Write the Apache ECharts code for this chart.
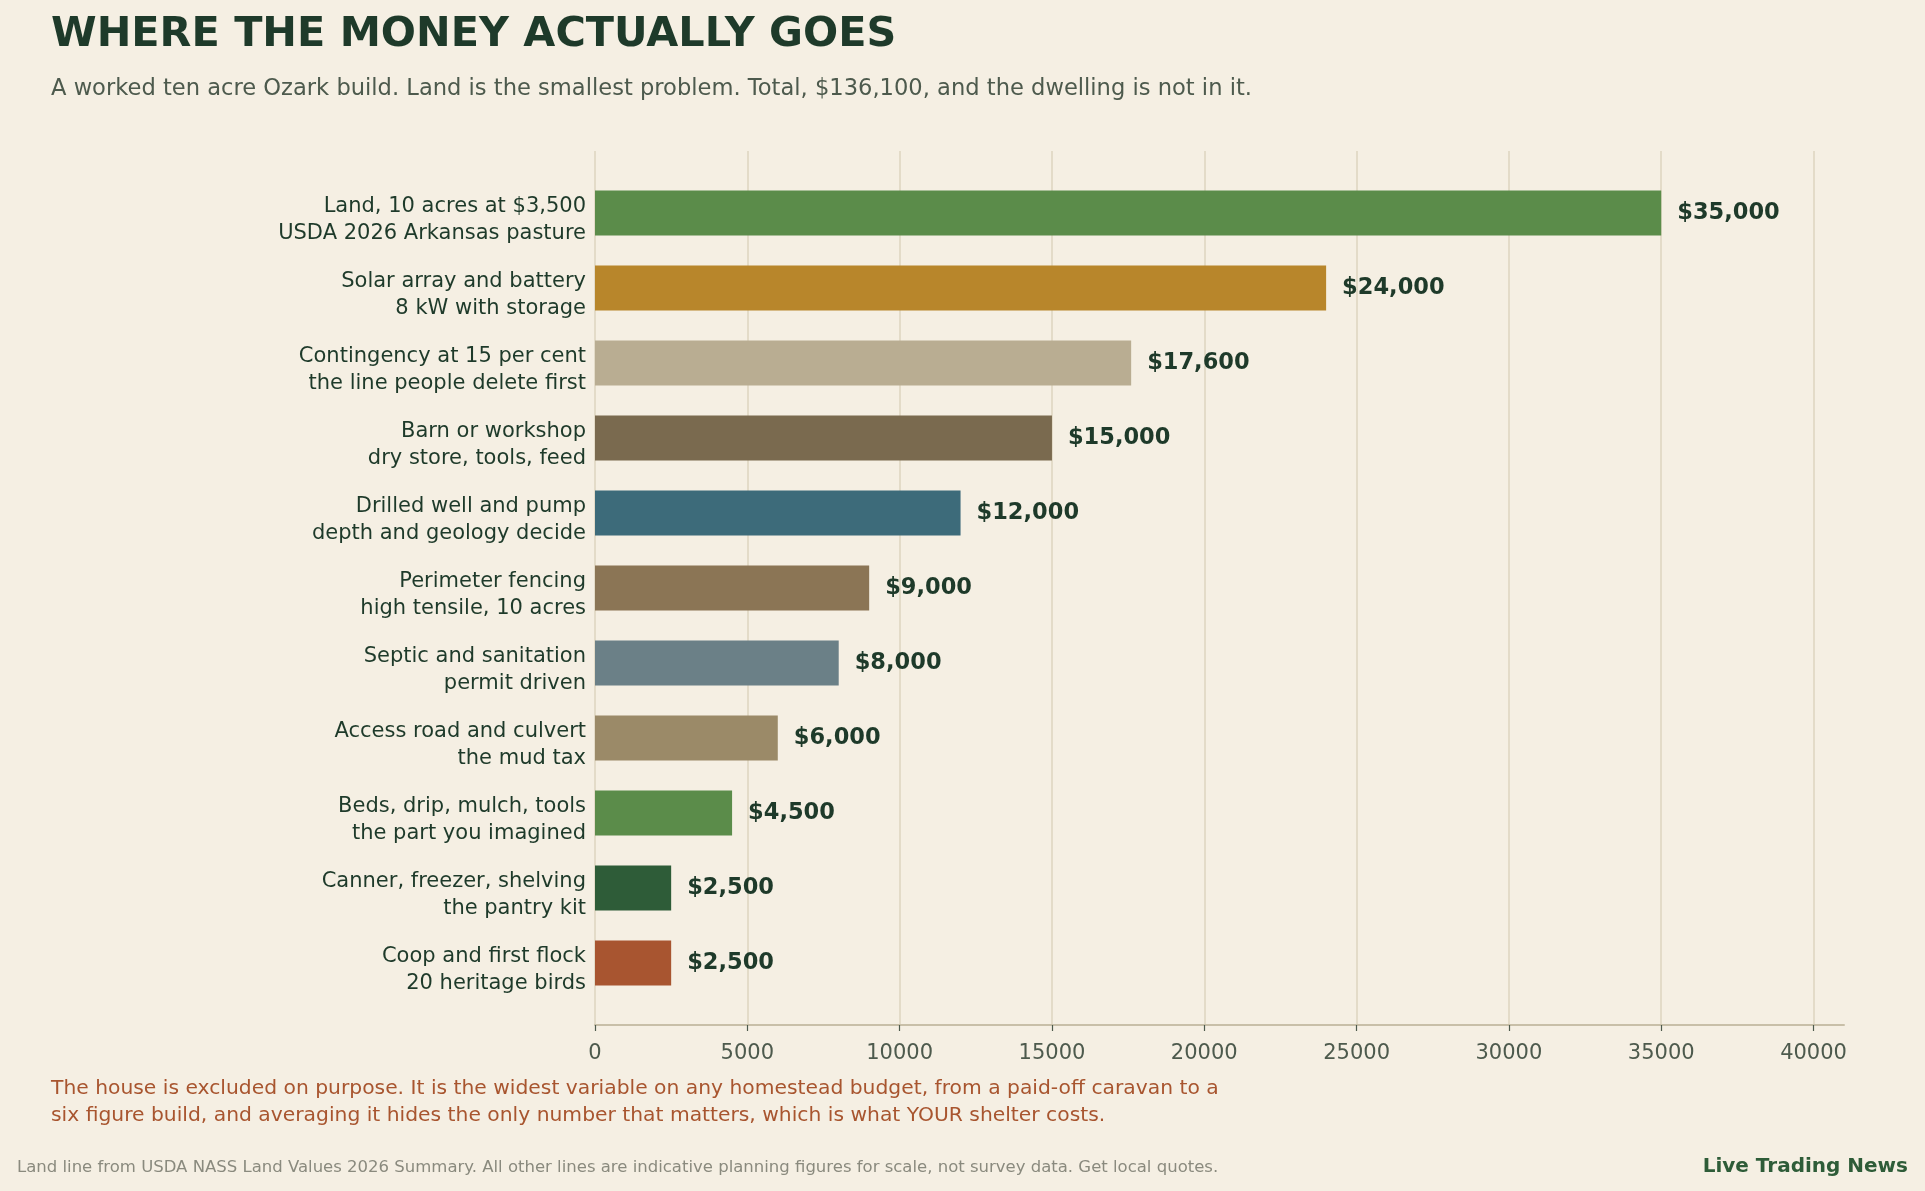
<!DOCTYPE html>
<html>
<head>
<meta charset="utf-8">
<script src="https://cdn.jsdelivr.net/npm/echarts@6/dist/echarts.min.js"></script>
<style>
  html, body { margin: 0; padding: 0; background: #f5efe3; }
  #chart { width: 1925px; height: 1191px; }
</style>
</head>
<body>
<div id="chart"></div>
<script>
// data, top bar first
var categories = [
    'Land, 10 acres at $3,500\nUSDA 2026 Arkansas pasture',
    'Solar array and battery\n8 kW with storage',
    'Contingency at 15 per cent\nthe line people delete first',
    'Barn or workshop\ndry store, tools, feed',
    'Drilled well and pump\ndepth and geology decide',
    'Perimeter fencing\nhigh tensile, 10 acres',
    'Septic and sanitation\npermit driven',
    'Access road and culvert\nthe mud tax',
    'Beds, drip, mulch, tools\nthe part you imagined',
    'Canner, freezer, shelving\nthe pantry kit',
    'Coop and first flock\n20 heritage birds'
];
var costs = [35000, 24000, 17600, 15000, 12000, 9000, 8000, 6000, 4500, 2500, 2500];
var barColors = ['#5b8c4a', '#b8862b', '#b9ad92', '#7a6a4f', '#3d6b7a', '#8b7555',
                 '#6b8087', '#9b8a68', '#5b8c4a', '#2e5c38', '#a85530'];
var xMax = 41000;      // axis runs a little past the last tick
var xTickMax = 40000;
var xStep = 5000;

var FONT = 'DejaVu Sans';
var ink = '#1e3a2a';

var chart = echarts.init(document.getElementById('chart'));

function money(v) {
    return '$' + String(v).replace(/\B(?=(\d{3})+(?!\d))/g, ',');
}

var plotLeft = 595, plotW = 1249;
var tickW = plotW * xTickMax / xMax;

option = {
    backgroundColor: '#f5efe3',
    animation: false,
    textStyle: { fontFamily: FONT },

    grid: [
        // bars
        { left: plotLeft, width: plotW, top: 175.5, height: 825 },
        // ticks, labels, gridlines (0..40000)
        { left: plotLeft, width: tickW, top: 151, height: 874 },
        // bottom spine (0..41000)
        { left: plotLeft, width: plotW, top: 151, height: 874 },
        // category labels, sit a touch below the bar centres
        { left: plotLeft, width: plotW, top: 182.5, height: 825 }
    ],

    xAxis: [
        { gridIndex: 0, type: 'value', min: 0, max: xMax, show: false },
        {
            gridIndex: 1, type: 'value', min: 0, max: xTickMax, interval: xStep,
            axisLine: { show: false },
            axisTick: { show: true, length: 6, lineStyle: { color: '#4d5a4d', width: 1.2 } },
            splitLine: { show: true, lineStyle: { color: '#ddd4bf', width: 1.5 } },
            axisLabel: {
                show: true, margin: 18, fontSize: 21, color: '#4d5a4d', fontFamily: FONT,
                formatter: function (v) { return String(v); }
            }
        },
        {
            gridIndex: 2, type: 'value', min: 0, max: xMax,
            axisLine: { show: true, lineStyle: { color: '#c8bfa8', width: 2 } },
            axisTick: { show: false }, axisLabel: { show: false }, splitLine: { show: false }
        },
        { gridIndex: 3, type: 'value', min: 0, max: xMax, show: false }
    ],

    yAxis: [
        { gridIndex: 0, type: 'category', inverse: true, data: categories, show: false },
        { gridIndex: 1, type: 'value', min: 0, max: 1, show: false },
        { gridIndex: 2, type: 'value', min: 0, max: 1, show: false },
        {
            gridIndex: 3, type: 'category', inverse: true, data: categories,
            axisLine: { show: false }, axisTick: { show: false }, splitLine: { show: false },
            axisLabel: {
                margin: 9, fontSize: 21, lineHeight: 27, color: ink, fontFamily: FONT, align: 'right'
            }
        }
    ],

    series: [
        {
            type: 'bar',
            xAxisIndex: 0,
            yAxisIndex: 0,
            barWidth: '60%',
            data: costs.map(function (v, i) {
                return { value: v, itemStyle: { color: barColors[i] } };
            }),
            label: {
                show: true, position: 'right', distance: 16,
                fontSize: 22.5, fontWeight: 'bold', color: ink, fontFamily: FONT,
                formatter: function (p) { return money(p.value); }
            }
        }
    ],

    graphic: [
        {
            type: 'text', left: 51, top: 15,
            style: { text: 'WHERE THE MONEY ACTUALLY GOES', font: 'bold 41.4px "DejaVu Sans"', fill: '#1e3a2a' }
        },
        {
            type: 'text', left: 51, top: 78,
            style: {
                text: 'A worked ten acre Ozark build. Land is the smallest problem. Total, $136,100, and the dwelling is not in it.',
                font: '22.6px "DejaVu Sans"', fill: '#4d5a4d'
            }
        },
        {
            type: 'text', left: 51, top: 1075,
            style: {
                text: 'The house is excluded on purpose. It is the widest variable on any homestead budget, from a paid-off caravan to a\nsix figure build, and averaging it hides the only number that matters, which is what YOUR shelter costs.',
                font: '20.3px "DejaVu Sans"', lineHeight: 27, fill: '#a8552f'
            }
        },
        {
            type: 'text', left: 17, top: 1159,
            style: {
                text: 'Land line from USDA NASS Land Values 2026 Summary. All other lines are indicative planning figures for scale, not survey data. Get local quotes.',
                font: '16.5px "DejaVu Sans"', fill: '#8a8a7e'
            }
        },
        {
            type: 'text', right: 17, top: 1157,
            style: { text: 'Live Trading News', font: 'bold 20px "DejaVu Sans"', fill: '#2e5c38' }
        }
    ]
};

chart.setOption(option);
</script>
</body>
</html>
